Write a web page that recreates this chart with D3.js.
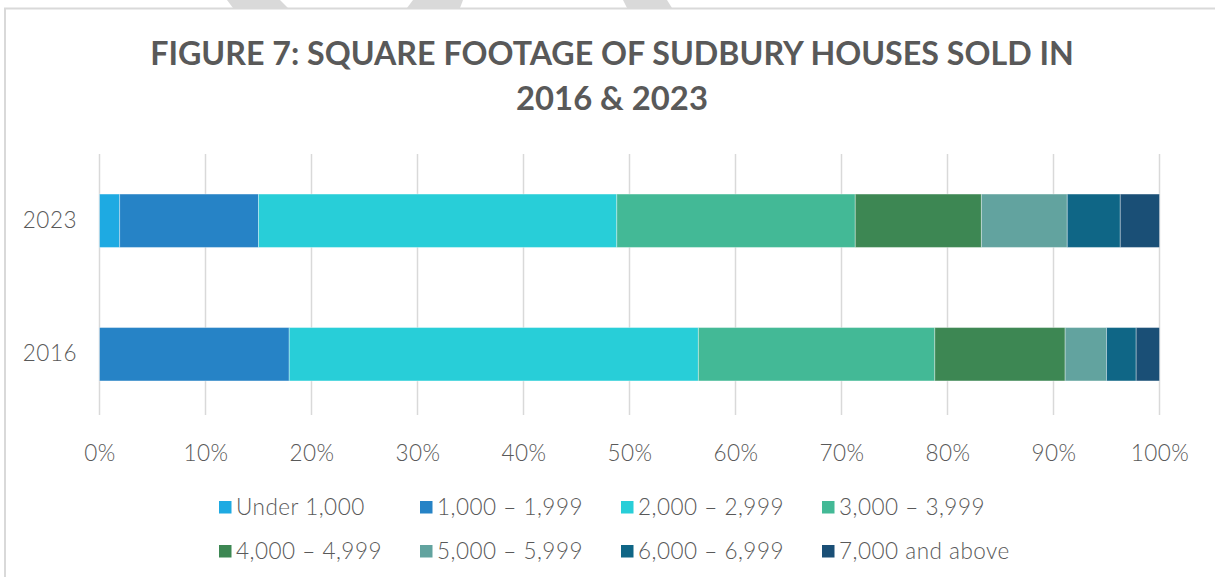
<!DOCTYPE html>
<html>
<head>
<meta charset="utf-8">
<script src="https://cdn.jsdelivr.net/npm/d3@7"></script>
<style>
  html, body { margin: 0; padding: 0; background: #fff; }
  svg { display: block; }
</style>
</head>
<body>
<svg id="chart" width="1215" height="577"></svg>
<script>
// data
var years = ["2023", "2016"];
var bands = ["Under 1,000", "1,000 \u2013 1,999", "2,000 \u2013 2,999", "3,000 \u2013 3,999",
             "4,000 \u2013 4,999", "5,000 \u2013 5,999", "6,000 \u2013 6,999", "7,000 and above"];
var share2023 = [1.9, 13.1, 33.8, 22.5, 11.9, 8.1, 5.0, 3.7];
var share2016 = [0, 17.9, 38.6, 22.3, 12.3, 3.9, 2.8, 2.2];
var xTicks = [0, 10, 20, 30, 40, 50, 60, 70, 80, 90, 100];
var colors = ["#1eaae2", "#2683c6", "#28ced8", "#43b996", "#3d8753", "#62a39f", "#0f6686", "#1a4f76"];
var titleLines = ["FIGURE 7: SQUARE FOOTAGE OF SUDBURY HOUSES SOLD IN", "2016 & 2023"];

var svg = d3.select("#chart"),
   textGray = "#595959",
   gridGray = "#d9d9d9",
   labelFont = "Lato, sans-serif";

// background bits peeking above the frame
var deco = [[[227, 0], [280, 0], [288, 8], [233, 8]],
            [[413, 0], [463, 0], [460, 8], [407, 8]],
            [[623, 0], [667, 0], [672, 8], [627, 8]]];
svg.selectAll("polygon.deco").data(deco).enter().append("polygon")
   .attr("class", "deco")
   .attr("points", function (d) { return d.map(function (p) { return p.join(","); }).join(" "); })
   .attr("fill", "#d9d9d9");

// chart frame
svg.append("rect")
   .attr("x", 5).attr("y", 8.5)
   .attr("width", 1230).attr("height", 600)
   .attr("fill", "#fff")
   .attr("stroke", "#d9d9d9")
   .attr("stroke-width", 2);

// title
svg.append("g").selectAll("text").data(titleLines).enter().append("text")
   .attr("x", 612)
   .attr("y", function (d, i) { return 64.5 + i * 45.5; })
   .attr("text-anchor", "middle")
   .attr("font-family", "Lato, sans-serif")
   .attr("font-weight", 700)
   .attr("font-size", function (d, i) { return i === 0 ? 32.2 : 32.8; })
   .attr("fill", textGray)
   .text(function (d) { return d; });

var x = d3.scaleLinear().domain([0, 100]).range([99.5, 1159.5]);
var y = d3.scaleBand().domain(years).range([154, 421]).paddingInner(0.6).paddingOuter(0.3);

// gridlines
svg.append("g").selectAll("line").data(xTicks).enter().append("line")
   .attr("x1", function (d) { return x(d); })
   .attr("x2", function (d) { return x(d); })
   .attr("y1", 154).attr("y2", 415)
   .attr("stroke", gridGray)
   .attr("stroke-width", 1.5);

// stacked bars
var series = bands.map(function (b, i) {
   return years.map(function (yr) {
      var arr = yr === "2023" ? share2023 : share2016,
         start = d3.sum(arr.slice(0, i));
      return { year: yr, x0: start, x1: start + arr[i] };
   });
});

svg.append("g").selectAll("g").data(series).enter().append("g")
   .attr("fill", function (d, i) { return colors[i]; })
   .selectAll("rect").data(function (d) { return d.filter(function (s) { return s.x1 > s.x0; }); })
   .enter().append("rect")
   .attr("x", function (d) { return x(d.x0); })
   .attr("width", function (d) { return x(d.x1) - x(d.x0); })
   .attr("y", function (d) { return y(d.year); })
   .attr("height", y.bandwidth())
   .attr("stroke", "rgba(255,255,255,0.35)")
   .attr("stroke-width", 1);

function styleLabels(sel) {
   sel.attr("font-family", labelFont)
      .attr("font-weight", 300)
      .attr("font-size", 22.5)
      .attr("letter-spacing", 0.5)
      .attr("fill", textGray);
}

// x axis labels
var xAxis = d3.axisBottom(x).tickValues(xTicks).tickSize(0).tickPadding(0)
   .tickFormat(function (d) { return d + "%"; });
var gx = svg.append("g").attr("transform", "translate(0,445)").call(xAxis);
gx.select(".domain").remove();
gx.selectAll("text").call(styleLabels);

// y axis labels
var yAxis = d3.axisLeft(y).tickSize(0).tickPadding(0);
var gy = svg.append("g").attr("transform", "translate(77,0)").call(yAxis);
gy.select(".domain").remove();
gy.selectAll("text").call(styleLabels);

// legend
var legend = svg.append("g").selectAll("g").data(bands).enter().append("g")
   .attr("transform", function (d, i) {
      return "translate(" + (219 + (i % 4) * 201) + "," + (501 + Math.floor(i / 4) * 44) + ")";
   });
legend.append("rect")
   .attr("width", 12.5).attr("height", 12.5)
   .attr("fill", function (d, i) { return colors[i]; });
legend.append("text")
   .attr("x", 17)
   .attr("y", 14)
   .call(styleLabels)
   .text(function (d) { return d; });
</script>
</body>
</html>
